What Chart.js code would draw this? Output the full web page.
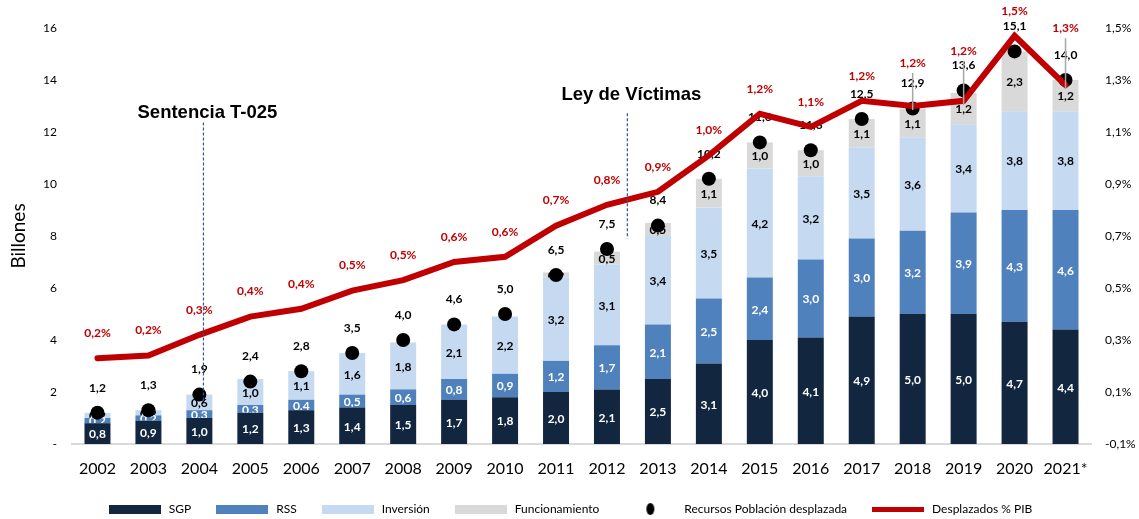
<!DOCTYPE html>
<html>
<head>
<meta charset="utf-8">
<script src="https://cdn.jsdelivr.net/npm/chart.js@4.4.0/dist/chart.umd.min.js"></script>
<style>
  html, body { margin: 0; padding: 0; background: #fff; }
</style>
</head>
<body>
<canvas id="chart" width="1139" height="519"></canvas>
<script>
const years = ["2002", "2003", "2004", "2005", "2006", "2007", "2008", "2009", "2010", "2011",
  "2012", "2013", "2014", "2015", "2016", "2017", "2018", "2019", "2020", "2021*"];
const sgp = [0.8, 0.9, 1.0, 1.2, 1.3, 1.4, 1.5, 1.7, 1.8, 2.0, 2.1, 2.5, 3.1, 4.0, 4.1, 4.9, 5.0, 5.0, 4.7, 4.4];
const rss = [0.2, 0.2, 0.3, 0.3, 0.4, 0.5, 0.6, 0.8, 0.9, 1.2, 1.7, 2.1, 2.5, 2.4, 3.0, 3.0, 3.2, 3.9, 4.3, 4.6];
const inversion = [0.2, 0.2, 0.6, 1.0, 1.1, 1.6, 1.8, 2.1, 2.2, 3.2, 3.1, 3.4, 3.5, 4.2, 3.2, 3.5, 3.6, 3.4, 3.8, 3.8];
const funcionamiento = [0, 0, 0, 0, 0, 0, 0, 0, 0, 0.2, 0.5, 0.5, 1.1, 1.0, 1.0, 1.1, 1.1, 1.2, 2.3, 1.2];
const recursos = [1.2, 1.3, 1.9, 2.4, 2.8, 3.5, 4.0, 4.6, 5.0, 6.5, 7.5, 8.4, 10.2, 11.6, 11.3, 12.5, 12.9, 13.6, 15.1, 14.0];
const pibPct = [0.23, 0.24, 0.32, 0.39, 0.42, 0.49, 0.53, 0.60, 0.62, 0.74, 0.82, 0.87, 1.01, 1.17, 1.12, 1.22, 1.20, 1.22, 1.47, 1.28];
const leftTicks = [0, 2, 4, 6, 8, 10, 12, 14, 16];
const rightTicks = [-0.1, 0.1, 0.3, 0.5, 0.7, 0.9, 1.1, 1.3, 1.5];

// hitos marcados con linea punteada (posicion en categorias, altura en billones)
const hitos = [
  { texto: "Sentencia T-025", cat: 2.08, yTexto: 12.72, yDesde: 12.37, yHasta: 1.66 },
  { texto: "Ley de Víctimas", cat: 10.4, yTexto: 13.42, yDesde: 12.72, yHasta: 7.9 }
];
// etiquetas de % que se suben con linea guia
const subirPct = { "2018": 18, "2019": 25, "2021*": 32 };

const fmt = (v) => v.toFixed(1).replace(".", ",");
const FONT = "Lato, 'Open Sans', sans-serif";

const icono = (w, h, draw) => {
  const c = document.createElement("canvas");
  c.width = w;
  c.height = h;
  draw(c.getContext("2d"));
  return c;
};
const cajita = (color) => icono(52, 9, (g) => { g.fillStyle = color; g.fillRect(0, 0, 52, 9); });

const etiquetas = {
  id: "etiquetas",
  afterDatasetDraw(chart, args) {
    const ds = chart.data.datasets[args.index];
    const meta = args.meta;
    const ctx = chart.ctx;
    ctx.save();
    ctx.textAlign = "center";
    ctx.textBaseline = "middle";
    ctx.font = "bold 12px " + FONT;
    if (meta.type === "bar") {
      ctx.fillStyle = ds.labelColor;
      meta.data.forEach((el, i) => {
        const v = ds.data[i];
        if (!v) return;
        const p = el.getProps(["x", "y", "base"], true);
        ctx.fillText(fmt(v), p.x, (p.y + p.base) / 2 + 1);
      });
    } else if (ds.key === "recursos") {
      ctx.fillStyle = "#000";
      meta.data.forEach((el, i) => {
        ctx.fillText(fmt(ds.data[i]), el.x, el.y - 25);
      });
    } else if (ds.key === "pib") {
      meta.data.forEach((el, i) => {
        const lift = subirPct[years[i]] || 0;
        const ty = el.y - 25 - lift;
        if (lift) {
          ctx.strokeStyle = "#A6A6A6";
          ctx.lineWidth = 1.5;
          ctx.beginPath();
          ctx.moveTo(el.x, ty + 10);
          ctx.lineTo(el.x, el.y + 4);
          ctx.stroke();
        }
        ctx.fillStyle = "#C00000";
        ctx.fillText(fmt(ds.data[i]) + "%", el.x, ty);
      });
    }
    ctx.restore();
  },
  afterDatasetsDraw(chart) {
    const ctx = chart.ctx;
    const x = chart.scales.x;
    const y = chart.scales.y;
    const w = x.getPixelForValue(1) - x.getPixelForValue(0);
    ctx.save();
    hitos.forEach((h) => {
      const px = x.getPixelForValue(0) + h.cat * w;
      ctx.strokeStyle = "#2F5597";
      ctx.lineWidth = 1.2;
      ctx.setLineDash([3, 2]);
      ctx.beginPath();
      ctx.moveTo(px, y.getPixelForValue(h.yDesde));
      ctx.lineTo(px, y.getPixelForValue(h.yHasta));
      ctx.stroke();
      ctx.setLineDash([]);
      ctx.fillStyle = "#000";
      ctx.font = "bold 18.5px 'Liberation Sans Narrow', 'Arial Narrow', 'Liberation Sans', sans-serif";
      ctx.textAlign = "center";
      ctx.textBaseline = "middle";
      ctx.fillText(h.texto, px + 4, y.getPixelForValue(h.yTexto));
    });
    ctx.restore();
  }
};

const iconos = [
  cajita("#12263F"),
  cajita("#4F81BD"),
  cajita("#C5D9F1"),
  cajita("#D9D9D9"),
  icono(12, 12, (g) => { g.fillStyle = "#000"; g.beginPath(); g.ellipse(6, 6, 4, 6, 0, 0, Math.PI * 2); g.fill(); }),
  icono(52, 5, (g) => { g.fillStyle = "#C00000"; g.fillRect(0, 0, 52, 5); })
];

new Chart(document.getElementById("chart"), {
  type: "bar",
  data: {
    labels: years,
    datasets: [
      { label: "SGP", data: sgp, backgroundColor: "#12263F", labelColor: "#fff", stack: "s", order: 2, yAxisID: "y" },
      { label: "RSS", data: rss, backgroundColor: "#4F81BD", labelColor: "#fff", stack: "s", order: 3, yAxisID: "y" },
      { label: "Inversión", data: inversion, backgroundColor: "#C5D9F1", labelColor: "#000", stack: "s", order: 4, yAxisID: "y" },
      { label: "Funcionamiento", data: funcionamiento, backgroundColor: "#D9D9D9", labelColor: "#000", stack: "s", order: 5, yAxisID: "y" },
      { type: "line", key: "recursos", label: "Recursos Población desplazada", data: recursos, showLine: false,
        pointRadius: 7, pointBackgroundColor: "#000", pointBorderWidth: 0, order: 1, yAxisID: "y" },
      { type: "line", key: "pib", label: "Desplazados % PIB", data: pibPct, borderColor: "#C00000", borderWidth: 6,
        pointRadius: 0, tension: 0, borderCapStyle: "round", order: 0, yAxisID: "y2" }
    ]
  },
  options: {
    responsive: false,
    animation: false,
    layout: { padding: { top: 28, left: 0, right: 0, bottom: -6 } },
    datasets: { bar: { barPercentage: 0.51, categoryPercentage: 1 } },
    plugins: {
      tooltip: { enabled: false },
      legend: {
        position: "bottom",
        labels: {
          usePointStyle: true,
          pointStyleWidth: 56,
          boxHeight: 9,
          padding: 23,
          color: "#000",
          font: { family: FONT, size: 12 },
          generateLabels: (chart) => chart.data.datasets.map((ds, i) => ({
            text: ds.label,
            pointStyle: iconos[i],
            datasetIndex: i,
            hidden: !chart.isDatasetVisible(i),
            fillStyle: "#000",
            strokeStyle: "#000",
            lineWidth: 0,
            fontColor: "#000"
          }))
        }
      }
    },
    scales: {
      x: {
        offset: true,
        grid: { display: false, drawTicks: false },
        border: { display: true, color: "#D9D9D9", width: 2 },
        ticks: { color: "#000", padding: 15, font: { family: FONT, size: 16 } },
        afterFit: (s) => { s.height = 36; }
      },
      y: {
        position: "left",
        stacked: true,
        min: 0,
        max: 16,
        grid: { display: false, drawTicks: false },
        border: { display: false },
        afterBuildTicks: (s) => { s.ticks = leftTicks.map((v) => ({ value: v })); },
        ticks: { color: "#000", padding: 15, font: { family: FONT, size: 12 },
          callback: (v) => (v === 0 ? "-" : v) },
        title: { display: true, text: "Billones", color: "#000", font: { family: FONT, size: 19 },
          padding: { top: 7, bottom: 0 } },
        afterFit: (s) => { s.width = 72; }
      },
      y2: {
        position: "right",
        min: -0.1,
        max: 1.5,
        grid: { display: false, drawTicks: false },
        border: { display: false },
        afterBuildTicks: (s) => { s.ticks = rightTicks.map((v) => ({ value: v })); },
        ticks: { color: "#000", padding: 14, font: { family: FONT, size: 12 },
          callback: (v) => fmt(v) + "%" },
        afterFit: (s) => { s.width = 48; }
      }
    }
  },
  plugins: [etiquetas]
});
</script>
</body>
</html>
